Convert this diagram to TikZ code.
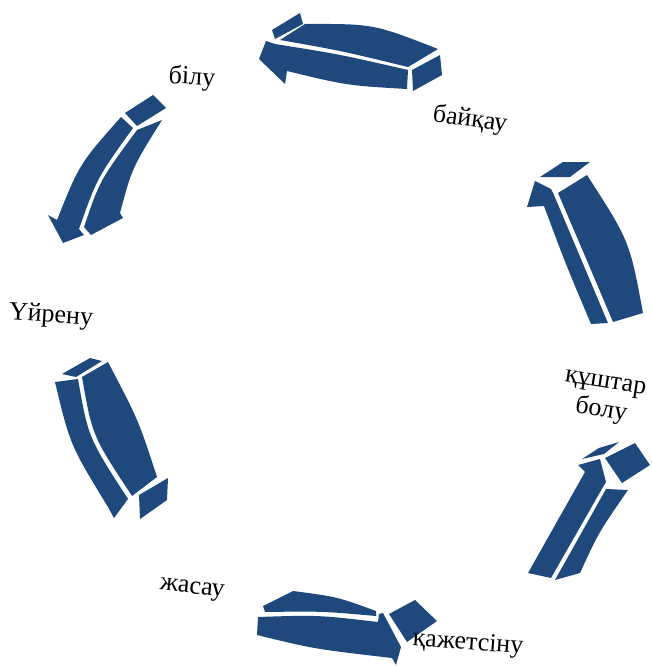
\documentclass[tikz,border=0pt]{standalone}
\usepackage{fontspec}
\setmainfont{Liberation Serif}
\usepackage{xcolor}
\usepackage{tikz}
\definecolor{cyclecol}{RGB}{31,73,125}

\begin{document}
\begin{tikzpicture}[x=1pt,y=-1pt,
    band/.style={fill=cyclecol},
    stage/.style={font=\fontsize{26}{29}\selectfont, inner sep=0pt, align=center}]
  \useasboundingbox (0,0) rectangle (651,666);

  % top arrow, head to the left
  \fill[band] (305,24) .. controls (373.5,23.8) .. (438,49) -- (408,67)
    .. controls (341.3,50.8) .. (280,40) -- cycle;
  \fill[band] (275,44) .. controls (339.5,54.3) .. (408,70) -- (407,89)
    .. controls (347,85.5) .. (287,71) -- (285,84) -- (259,59) -- (266,41) -- cycle;
  \fill[band] (272,30) -- (300,13) -- (303,24) -- (275,39) -- cycle;
  \fill[band] (412,70) -- (440,55) -- (442,75) -- (413,91) -- cycle;

  % right arrow (upper), head up
  \fill[band] (540,177) -- (563,162) -- (590,162) -- (570,177) -- cycle;
  \fill[band] (558,193) -- (587,175) .. controls (629.7,241.3) .. (643,313) -- (613,322)
    .. controls (584.8,255.5) .. (558,193) -- cycle;
  \fill[band] (544,206) -- (527,207) -- (535,181) -- (551,189) -- (554,195)
    .. controls (581,259) .. (608,323) -- (591,324)
    .. controls (565.5,263.7) .. (544,206) -- cycle;

  % right arrow (lower), head up
  \fill[band] (528,573) -- (585,472) -- (578,465) -- (600,459) -- (606,482)
    -- (603,487) -- (551,578) -- cycle;
  \fill[band] (555,580) -- (606,489) -- (628,490)
    .. controls (598.7,532.3) .. (580,573) -- cycle;
  \fill[band] (582,459) -- (599,448) -- (619,442) -- (604,454) -- cycle;
  \fill[band] (605,458) -- (635,443) -- (650,465) -- (622,483) -- cycle;

  % bottom arrow, head to the right
  \fill[band] (263,606) -- (293,591) .. controls (337.2,596.8) .. (376,611) -- (376,616)
    .. controls (321.8,611.2) .. (265,612) -- cycle;
  \fill[band] (258,617) .. controls (318,615) .. (378,622) -- (379,614) -- (383,613)
    -- (401,647) -- (396,665) -- (392,658)
    .. controls (314.3,649) .. (257,635) -- cycle;
  \fill[band] (389,614) -- (415,600) -- (437,621) -- (407,642) -- cycle;

  % left arrow (lower), head down
  \fill[band] (62,374) -- (90,358) -- (102,361) -- (76,377) -- cycle;
  \fill[band] (55,382) .. controls (70.2,445.2) .. (108,507) -- (114,518) -- (128,499)
    .. controls (88.3,437.7) .. (78,379) -- cycle;
  \fill[band] (82,377) -- (108,362) .. controls (138.5,420.2) .. (157,477) -- (132,496)
    .. controls (92.3,435.8) .. (82,377) -- cycle;
  \fill[band] (139,495) -- (168,478) -- (167,500) -- (140,519) -- cycle;

  % left arrow (upper), head down
  \fill[band] (125,113) -- (153,95) -- (166,108) -- (137,126) -- cycle;
  \fill[band] (121,117) .. controls (79.5,163.8) .. (57,220) -- (48,215) -- (63,243)
    -- (84,235) -- (79,229) .. controls (97,178) .. (133,128) -- cycle;
  \fill[band] (137,130) -- (162,120) .. controls (132,168) .. (120,213) -- (123,218)
    -- (91,235) -- (84,227) .. controls (99.7,180.7) .. (137,130) -- cycle;

  % stage labels
  \node[stage, rotate=-8] (bajqau) at (470,120) {байқау};
  \node[stage, rotate=-3] (bilu) at (192,78) {білу};
  \node[stage, rotate=-4] (ujrenu) at (51,316) {Үйрену};
  \node[stage, rotate=-6] (zhasau) at (192,590) {жасау};
  \node[stage, rotate=-4] (qazhet) at (468,644) {қажетсіну};
  \node[stage, rotate=-9] (qushtar) at (603,399) {құштар\\болу};
\end{tikzpicture}
\end{document}
